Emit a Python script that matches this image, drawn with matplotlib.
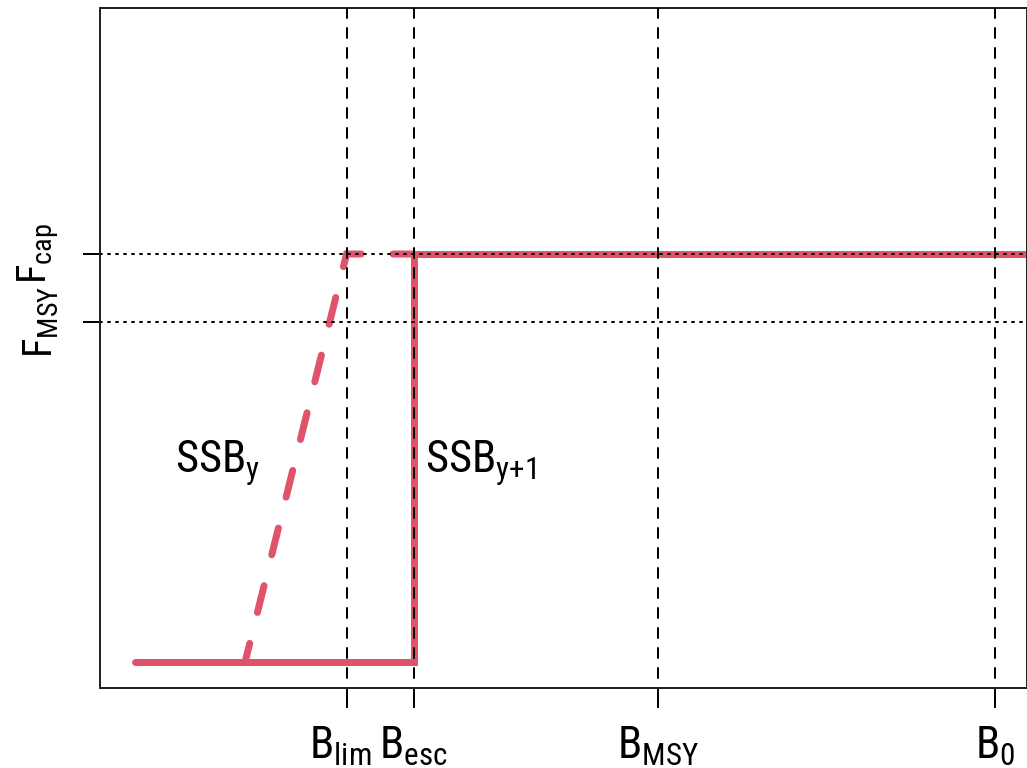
import matplotlib
matplotlib.use("Agg")
import matplotlib.pyplot as plt
from matplotlib import font_manager

_installed = {f.name for f in font_manager.fontManager.ttflist}
FONT = next((n for n in ["Liberation Sans Narrow", "Arial Narrow", "Roboto Condensed",
                         "Archivo Narrow", "Liberation Sans"] if n in _installed), "DejaVu Sans")

plt.rcParams["font.family"] = [FONT, "DejaVu Sans"]
plt.rcParams["mathtext.fontset"] = "custom"
plt.rcParams["mathtext.rm"] = FONT
plt.rcParams["mathtext.it"] = FONT + ":italic"
plt.rcParams["lines.scale_dashes"] = False

# Reference points on the biomass axis (relative to B0)
b_names = [r"$\mathregular{B_{lim}}$", r"$\mathregular{B_{esc}}$",
           r"$\mathregular{B_{MSY}}$", r"$\mathregular{B_{0}}$"]
b_values = [0.246, 0.324, 0.608, 1.0]

# Fishing mortality reference levels
f_names = [r"$\mathregular{F_{MSY}}$", r"$\mathregular{F_{cap}}$"]
f_values = [0.25, 0.30]

# Harvest control rule based on SSB in year y: ramp from zero at 0.128 to F_cap at B_lim
# (the flat parts coincide with the y+1 rule and are drawn by it)
hcr_y_x = [0.128, 0.246, 0.324]
hcr_y_f = [0.0, 0.30, 0.30]

# Harvest control rule based on SSB in year y+1 (step at B_esc)
hcr_y1_x = [0.0, 0.324, 0.324, 1.2]
hcr_y1_f = [0.0, 0.0, 0.30, 0.30]

RED = "#DF536B"
DPI = 100
px = 72.0 / DPI  # points per pixel

fig = plt.figure(figsize=(10.27, 7.68), dpi=DPI)
ax = fig.add_axes([100 / 1027, (768 - 688) / 768, (1026.5 - 100) / 1027, (688 - 8) / 768])
xlim = (-0.0407, 1.0366)
ylim = (-0.0191, 0.4809)
ax.set_xlim(*xlim)
ax.set_ylim(*ylim)

# control rules: dashed ramp underneath, solid step on top
ax.plot(hcr_y_x, hcr_y_f, color=RED, lw=7 * px,
        linestyle=(8.3 * px, (27.5 * px, 31.9 * px)),
        dash_capstyle="round", dash_joinstyle="miter", zorder=1.9)
ax.plot(hcr_y1_x, hcr_y1_f, color=RED, lw=7 * px, solid_capstyle="round",
        solid_joinstyle="miter", zorder=2)

# reference lines
for b in b_values:
    ax.plot([b, b], [ylim[1], ylim[0]], color="black", lw=2 * px,
            linestyle=(0, (10 * px, 10 * px)), dash_capstyle="round", zorder=3)
for f in f_values:
    ax.plot([xlim[0], xlim[1]], [f, f], color="black", lw=2 * px,
            linestyle=(0, (2 * px, 6 * px)), dash_capstyle="round", zorder=3)

# labels for the two rules
ax.text(0.046, 0.1397, r"$\mathregular{SSB_{y}}$", fontsize=32, ha="left",
        va="baseline", zorder=4)
ax.text(0.337, 0.1397, r"$\mathregular{SSB_{y{+}1}}$", fontsize=32, ha="left",
        va="baseline", zorder=4)

# biomass axis: ticks plus labels set just below them
ax.set_xticks(b_values)
ax.set_xticklabels([])
ax.tick_params(axis="x", length=20 * px, width=2 * px)
label_shift = [-6, 0, 0, 0]
for b, name, dx in zip(b_values, b_names, label_shift):
    ax.annotate(name, xy=(b, 0), xycoords=("data", "axes fraction"),
                xytext=(dx * px, -37 * px), textcoords="offset points",
                ha="center", va="top", fontsize=32)

ax.set_yticks(f_values)
ax.set_yticklabels(f_names, fontsize=29, rotation=90, va="center")
ax.tick_params(axis="y", length=17 * px, width=2 * px, pad=16)

for side, sp in ax.spines.items():
    sp.set_linewidth(2 * px)
    sp.set_color("#222222")

fig.savefig("out.png", dpi=DPI)
